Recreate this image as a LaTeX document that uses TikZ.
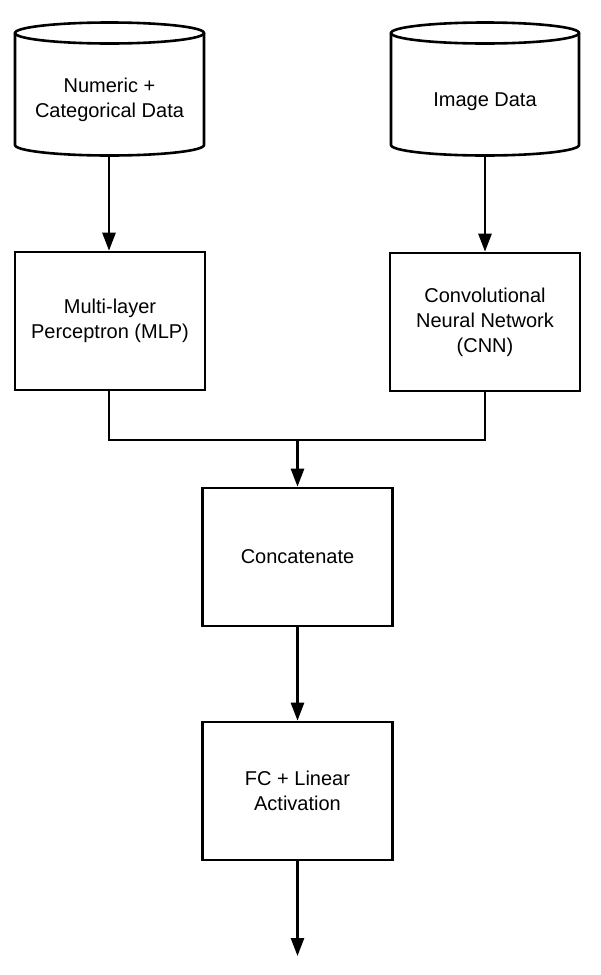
\documentclass[tikz,border=0pt]{standalone}
\usepackage{fontspec}
\setmainfont{Liberation Sans}
\usetikzlibrary{arrows.meta}
\begin{document}
\begin{tikzpicture}[x=1pt,y=-1pt,
  lw/.style={line width=2.6pt},
  box/.style={draw,lw,minimum width=190pt,minimum height=138pt,inner sep=0pt,align=center,font=\fontsize{20}{25}\selectfont},
  lbl/.style={align=center,font=\fontsize{20}{25}\selectfont,inner sep=0pt},
  conn/.style={lw,-{Triangle[length=18pt,width=13pt]}},
  line/.style={lw}]
\useasboundingbox (0,0) rectangle (600,975);
% cylinders
\foreach \cx/\rx in {109.5/94.5,485/94}{
  \filldraw[lw,fill=white] (\cx-\rx,33) -- (\cx-\rx,145) arc[start angle=180,end angle=0,x radius=\rx,y radius=10.5] -- (\cx+\rx,33);
  \draw[lw] (\cx,33) ellipse[x radius=\rx,y radius=10.5];
}
\node[lbl] (num) at (109.5,100) {Numeric +\\Categorical Data};
\node[lbl] (img) at (485,102) {Image Data};
\coordinate (numb) at (109,155.5);
\coordinate (imgb) at (485,155.5);
% boxes
\node[box] (mlp) at (110,321) {Multi-layer\\Perceptron (MLP)};
\node[box] (cnn) at (485,322) {Convolutional\\Neural Network\\(CNN)};
\node[box] (cat) at (297.5,557) {Concatenate};
\node[box] (fc) at (297.5,791) {FC + Linear\\Activation};
\coordinate (out) at (297.5,956);
\coordinate (j) at (297.5,440);
% connectors
\draw[conn] (numb) -- (numb |- mlp.north);
\draw[conn] (imgb) -- (imgb |- cnn.north);
\draw[line] (numb |- mlp.south) -- (numb |- j) -- (imgb |- j) -- (imgb |- cnn.south);
\draw[conn] (j) -- (cat.north);
\draw[conn] (cat.south) -- (fc.north);
\draw[conn] (fc.south) -- (out);
\end{tikzpicture}
\end{document}
